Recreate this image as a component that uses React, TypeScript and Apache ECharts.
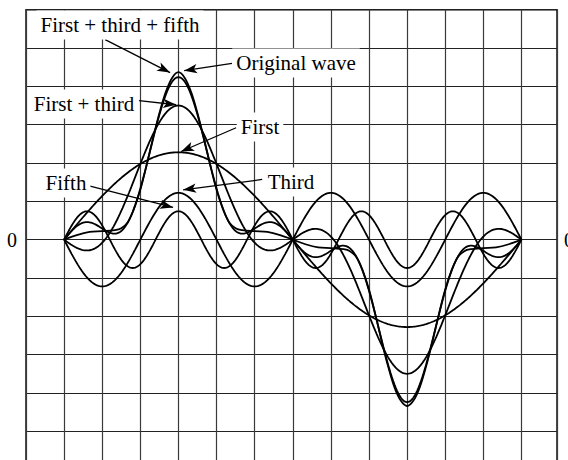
import React, { useEffect, useRef } from 'react';
import * as echarts from 'echarts';

// Harmonic components (amplitude in grid units, sign of sin(nθ))
const harmonicNames = ['First', 'Third', 'Fifth'];
const harmonicOrders = [1, 3, 5];
const harmonicAmplitudes = [2.28, -1.22, 0.74];

// Original wave (angle in degrees, value in grid units)
const originalAngles = [
  0, 10, 20, 30, 40, 45, 50, 55, 60, 65, 70, 75, 80, 85, 90, 95, 100, 105, 110, 115, 120, 125, 130, 135, 140, 150, 160, 170, 180,
  190, 200, 210, 220, 225, 230, 235, 240, 245, 250, 255, 260, 265, 270, 275, 280, 285, 290, 295, 300, 305, 310, 315, 320, 330, 340, 350, 360,
];
const originalValues = [
  0, 0.12, 0.2, 0.22, 0.25, 0.3, 0.45, 0.8, 1.3, 1.95, 2.65, 3.3, 3.85, 4.22, 4.37, 4.22, 3.85, 3.3, 2.65, 1.95, 1.3, 0.8, 0.45, 0.3, 0.25, 0.22, 0.2, 0.12, 0,
  -0.12, -0.2, -0.22, -0.25, -0.3, -0.45, -0.8, -1.3, -1.95, -2.65, -3.3, -3.85, -4.2, -4.34, -4.2, -3.85, -3.3, -2.65, -1.95, -1.3, -0.8, -0.45, -0.3, -0.25, -0.22, -0.2, -0.12, 0,
];

// Tick labels on the vertical axes
const yTickLabels = ['0'];

// Annotations: label text, arrow start and arrow tip (data coordinates)
const annotationTexts = ['First + third + fifth', 'Original wave', 'First + third', 'First', 'Fifth', 'Third'];
const arrowFrom = [[32.3, 5.22], [132.2, 4.6], [59.0, 3.63], [135.4, 2.92], [18.9, 1.41], [155.9, 1.57]];
const arrowTo = [[83.4, 4.36], [94.5, 4.41], [88.2, 3.52], [92.1, 2.3], [85.8, 0.84], [93.7, 1.3]];

const labelPixelPos = [[120, 25], [296, 63], [84, 104], [260, 127], [66, 183], [291, 182]];

const FONT = '"Liberation Serif", "Times New Roman", serif';

export default function App() {
  const ref = useRef<HTMLDivElement>(null);
  useEffect(() => {
    if (!ref.current) return;
    const chart = echarts.init(ref.current, undefined, { renderer: 'svg' });

    const thetas: number[] = [];
    for (let t = 0; t <= 360; t += 1) thetas.push(t);
    const comp = (i: number, t: number) =>
      harmonicAmplitudes[i] * Math.sin((harmonicOrders[i] * t * Math.PI) / 180);

    const lineBase = {
      type: 'line' as const,
      showSymbol: false,
      symbol: 'none',
      silent: true,
      lineStyle: { color: '#000', width: 1.8 },
      z: 3,
    };

    const series: any[] = harmonicNames.map((name, i) => ({
      ...lineBase,
      name,
      data: thetas.map((t) => [t, comp(i, t)]),
    }));
    series.push({
      ...lineBase,
      name: 'First + third',
      data: thetas.map((t) => [t, comp(0, t) + comp(1, t)]),
    });
    series.push({
      ...lineBase,
      name: 'First + third + fifth',
      data: thetas.map((t) => [t, comp(0, t) + comp(1, t) + comp(2, t)]),
    });
    series.push({
      ...lineBase,
      name: 'Original wave',
      smooth: 0.35,
      data: originalAngles.map((a, i) => [a, originalValues[i]]),
    });
    series.push({
      type: 'line',
      name: 'arrows',
      data: [],
      silent: true,
      markLine: {
        silent: true,
        animation: false,
        symbol: ['none', 'arrow'],
        symbolSize: [7, 13],
        lineStyle: { color: '#000', width: 1.3, type: 'solid' },
        label: { show: false },
        emphasis: { disabled: true },
        data: arrowFrom.map((f, i) => [{ coord: f }, { coord: arrowTo[i] }]),
      },
    });

    const yLabel = {
      show: true,
      fontFamily: FONT,
      fontSize: 20,
      color: '#000',
      formatter: (v: number) => (yTickLabels.includes(String(v)) ? String(v) : ''),
    };

    chart.setOption({
      animation: false,
      backgroundColor: '#fff',
      grid: {
        left: 26,
        top: 9.7,
        width: 531,
        height: 459.9,
        show: true,
        borderColor: '#000',
        borderWidth: 1.4,
        backgroundColor: 'transparent',
        containLabel: false,
        outerBoundsMode: 'none',
      },
      xAxis: {
        type: 'value',
        min: -30,
        max: 388,
        interval: 30,
        axisLine: { show: false },
        axisTick: { show: false },
        axisLabel: { show: false },
        splitLine: { show: true, lineStyle: { color: '#3a3a3a', width: 1.2 } },
      },
      yAxis: [
        {
          type: 'value',
          position: 'left',
          min: -6,
          max: 6,
          interval: 1,
          axisLine: { show: false },
          axisTick: { show: false },
          axisLabel: { ...yLabel, margin: 9 },
          splitLine: { show: true, lineStyle: { color: '#222', width: 1.2 } },
        },
        {
          type: 'value',
          position: 'right',
          min: -6,
          max: 6,
          interval: 1,
          axisLine: { show: false },
          axisTick: { show: false },
          axisLabel: { ...yLabel, margin: 7 },
          splitLine: { show: false },
        },
      ],
      series,
      graphic: annotationTexts.map((text, i) => ({
        type: 'text',
        x: labelPixelPos[i][0],
        y: labelPixelPos[i][1],
        z: 100,
        silent: true,
        style: {
          text,
          font: `21px ${FONT}`,
          fill: '#000',
          align: 'center',
          verticalAlign: 'middle',
          textAlign: 'center',
          textVerticalAlign: 'middle',
          backgroundColor: '#fff',
          padding: [4, 4],
        },
      })),
    });

    return () => chart.dispose();
  }, []);

  return (
    <div
      style={{
        position: 'fixed',
        left: 0,
        top: 0,
        width: 568,
        height: 460,
        overflow: 'hidden',
        background: '#fff',
      }}
    >
      <div ref={ref} style={{ width: 568, height: 480 }} />
    </div>
  );
}
